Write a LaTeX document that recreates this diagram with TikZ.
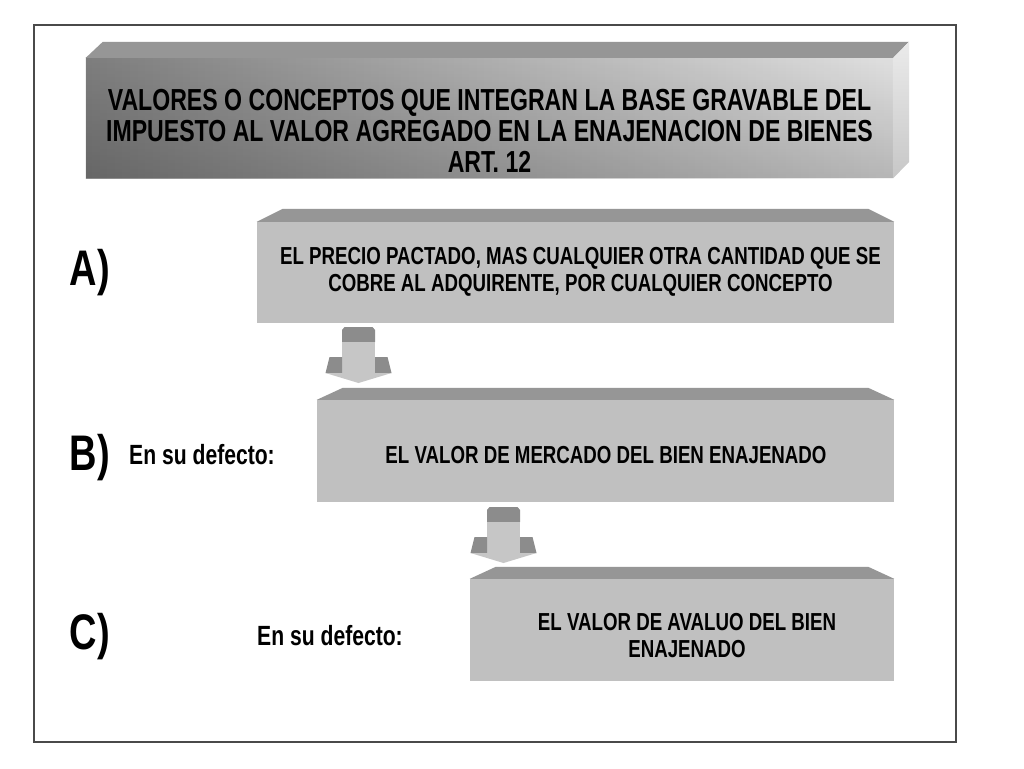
\documentclass[tikz,border=0pt]{standalone}
\usepackage{fontspec}
\newfontfamily\nf{Liberation Sans}[FakeStretch=0.76]
\usetikzlibrary{fadings,calc}
\definecolor{facec}{HTML}{C0C0C0}
\definecolor{topc}{HTML}{969696}
\definecolor{arrdark}{HTML}{8C8C8C}
\definecolor{arrlight}{HTML}{C6C6C6}
\definecolor{framec}{HTML}{4A4A4A}
\tikzfading[name=vfade, top color=transparent!75, middle color=transparent!100, bottom color=transparent!25]
\tikzset{
  front/.style={fill=facec, draw=none, inner sep=0pt},
  topface/.style={fill=topc, draw=none},
  boxtext/.style={font=\nf\bfseries\fontsize{24.6}{27}\selectfont, align=center, text=black},
  bigtext/.style={font=\nf\bfseries\fontsize{50}{52}\selectfont, text=black},
  sidetext/.style={font=\nf\bfseries\fontsize{27.8}{28}\selectfont, text=black},
}
\begin{document}
\begin{tikzpicture}[x=1pt,y=-1pt]
\useasboundingbox (0,0) rectangle (1024,768);
\fill[white] (0,0) rectangle (1024,768);
\draw[framec, line width=1.3pt] (34,25) rectangle (956,742);

% title box
\node[inner sep=0pt, minimum width=807pt, minimum height=120pt] (title) at (489.5,118) {};
\shade[left color=black!46, middle color=black!22, right color=black!4] (title.north west) rectangle (title.south east);
\fill[black, opacity=0.34, path fading=vfade] (title.north west) rectangle (title.south east);
\fill[topc] (title.north west) -- ++(17,-16) -- ++(806,0) -- (title.north east) -- cycle;
\shade[top color=black!8, bottom color=black!22] (title.north east) -- ++(16,-16) -- ++(0,120) -- (title.south east) -- cycle;
\node[font=\nf\bfseries\fontsize{30.4}{31}\selectfont, align=center] (titletext) at (489.5,131)
  {VALORES O CONCEPTOS QUE INTEGRAN LA BASE GRAVABLE DEL\\IMPUESTO AL VALOR AGREGADO EN LA ENAJENACION DE BIENES\\ART. 12};

% box A
\node[front, minimum width=637pt, minimum height=101pt] (boxA) at (575.5,272.5) {};
\fill[topface] (boxA.north west) -- ++(26,-13) -- ($(boxA.north east)+(-26pt,13pt)$) -- (boxA.north east) -- cycle;
\node[boxtext] (textA) at (580.5,271.5) {EL PRECIO PACTADO, MAS CUALQUIER OTRA CANTIDAD QUE SE\\COBRE AL ADQUIRENTE, POR CUALQUIER CONCEPTO};

% box B
\node[front, minimum width=577pt, minimum height=102pt] (boxB) at (605.5,451) {};
\fill[topface] (boxB.north west) -- ++(26,-12) -- ($(boxB.north east)+(-26pt,12pt)$) -- (boxB.north east) -- cycle;
\node[boxtext] (textB) at (606,455) {EL VALOR DE MERCADO DEL BIEN ENAJENADO};

% box C
\node[front, minimum width=424pt, minimum height=102pt] (boxC) at (682,630) {};
\fill[topface] (boxC.north west) -- ++(26,-12) -- ($(boxC.north east)+(-26pt,12pt)$) -- (boxC.north east) -- cycle;
\node[boxtext] (textC) at (687,635.5) {EL VALOR DE AVALUO DEL BIEN\\ENAJENADO};

% arrows
\coordinate (ar1) at (358.5,327);
\coordinate (ar2) at (503.5,507);
\foreach \a in {ar1,ar2}{
  \fill[arrdark] ($(\a)+(-14pt,0pt)$) -- ($(\a)+(14pt,0pt)$) -- ($(\a)+(16.5pt,-3pt)$) -- ($(\a)+(16.5pt,-15pt)$) -- ($(\a)+(-16.5pt,-15pt)$) -- ($(\a)+(-16.5pt,-3pt)$) -- cycle;
  \fill[arrlight] ($(\a)+(-16.5pt,-15pt)$) rectangle ($(\a)+(16.5pt,-46pt)$);
  \fill[arrdark] ($(\a)+(-29pt,-30pt)$) -- ($(\a)+(-16.5pt,-30pt)$) -- ($(\a)+(-16.5pt,-46pt)$) -- ($(\a)+(-33pt,-46pt)$) -- cycle;
  \fill[arrdark] ($(\a)+(29pt,-30pt)$) -- ($(\a)+(16.5pt,-30pt)$) -- ($(\a)+(16.5pt,-46pt)$) -- ($(\a)+(33pt,-46pt)$) -- cycle;
  \fill[arrlight] ($(\a)+(-33pt,-46pt)$) -- ($(\a)+(33pt,-46pt)$) -- ($(\a)+(0pt,-56pt)$) -- cycle;
}

% labels
\node[bigtext] (labA) at (90,273) {A)};
\node[bigtext] (labB) at (90,458) {B)};
\node[bigtext] (labC) at (90,637) {C)};
\node[sidetext] (defB) at (202,455) {En su defecto:};
\node[sidetext] (defC) at (330,636) {En su defecto:};
\end{tikzpicture}
\end{document}
